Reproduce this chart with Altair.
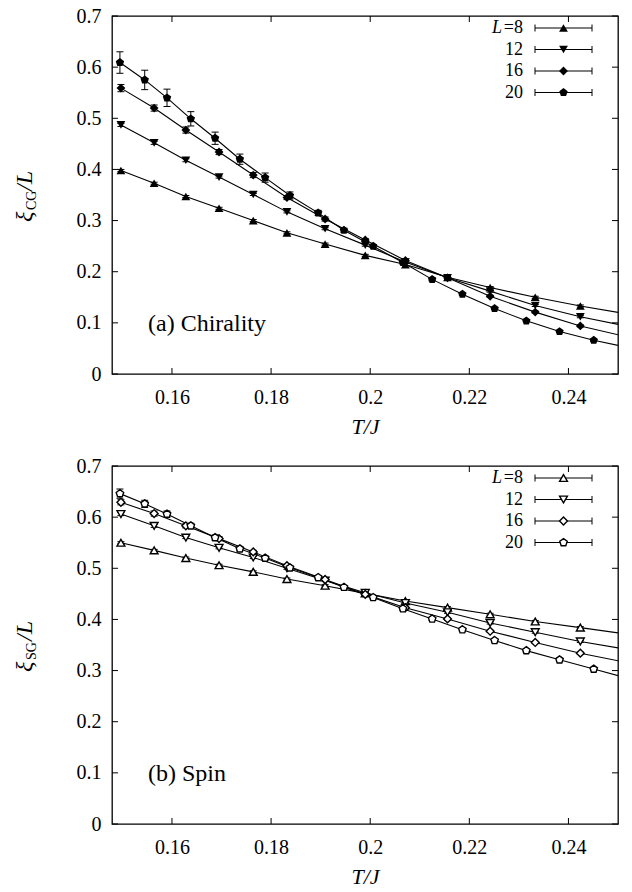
import altair as alt
import pandas as pd

# ---------------- data ----------------
SIZES = ["8", "12", "16", "20"]

# temperature grids: L=8,12,16 share one grid, L=20 has a finer one
T_A = [0.1497, 0.1564, 0.1628, 0.1695, 0.1764, 0.1832, 0.1909, 0.1990, 0.2071,
       0.2156, 0.2242, 0.2333, 0.2424, 0.2521]
T_B = [0.1495, 0.1545, 0.1590, 0.1638, 0.1687, 0.1737, 0.1788, 0.1838, 0.1895,
       0.1947, 0.2006, 0.2066, 0.2125, 0.2186, 0.2251, 0.2315, 0.2382, 0.2451, 0.2519]

# (a) chirality  xi_CG / L
CG_L8 = [0.398, 0.373, 0.347, 0.324, 0.300, 0.276, 0.254, 0.232, 0.214, 0.189, 0.169, 0.150, 0.133, 0.117]
CG_L12 = [0.487, 0.452, 0.418, 0.385, 0.351, 0.317, 0.284, 0.252, 0.219, 0.188, 0.162, 0.134, 0.112, 0.093]
CG_L16 = [0.559, 0.520, 0.477, 0.434, 0.389, 0.345, 0.303, 0.262, 0.222, 0.188, 0.152, 0.121, 0.094, 0.072]
CG_L20 = [0.609, 0.575, 0.540, 0.499, 0.461, 0.420, 0.384, 0.349, 0.315, 0.281, 0.250, 0.218, 0.185,
          0.156, 0.128, 0.104, 0.083, 0.066, 0.052]
CG_E8 = [0.002, 0.002, 0.002, 0.002, 0.002, 0.002, 0.002, 0.002, 0.002, 0.002, 0.002, 0.002, 0.002, 0.002]
CG_E12 = [0.003, 0.003, 0.003, 0.002, 0.002, 0.002, 0.002, 0.002, 0.002, 0.002, 0.002, 0.002, 0.002, 0.002]
CG_E16 = [0.007, 0.006, 0.006, 0.005, 0.005, 0.004, 0.004, 0.003, 0.003, 0.003, 0.002, 0.002, 0.002, 0.002]
CG_E20 = [0.021, 0.019, 0.017, 0.014, 0.012, 0.010, 0.009, 0.007, 0.005, 0.004, 0.003, 0.003, 0.003,
          0.002, 0.002, 0.002, 0.002, 0.002, 0.002]

# (b) spin  xi_SG / L
SG_L8 = [0.550, 0.535, 0.520, 0.506, 0.493, 0.479, 0.466, 0.451, 0.436, 0.423, 0.410, 0.396, 0.384, 0.371]
SG_L12 = [0.606, 0.583, 0.560, 0.540, 0.521, 0.500, 0.476, 0.452, 0.432, 0.414, 0.393, 0.375, 0.357, 0.341]
SG_L16 = [0.629, 0.607, 0.583, 0.558, 0.532, 0.505, 0.478, 0.449, 0.423, 0.401, 0.377, 0.355, 0.334, 0.315]
SG_L20 = [0.646, 0.626, 0.606, 0.583, 0.560, 0.538, 0.520, 0.501, 0.482, 0.463, 0.443, 0.421, 0.401,
          0.380, 0.359, 0.339, 0.321, 0.303, 0.285]
SG_E8 = [0.002, 0.002, 0.002, 0.002, 0.002, 0.002, 0.002, 0.002, 0.002, 0.002, 0.002, 0.002, 0.002, 0.002]
SG_E12 = [0.003, 0.003, 0.002, 0.002, 0.002, 0.002, 0.002, 0.002, 0.002, 0.002, 0.002, 0.002, 0.002, 0.002]
SG_E16 = [0.005, 0.005, 0.004, 0.004, 0.003, 0.003, 0.003, 0.003, 0.003, 0.002, 0.002, 0.002, 0.002, 0.002]
SG_E20 = [0.009, 0.007, 0.006, 0.005, 0.005, 0.004, 0.004, 0.004, 0.003, 0.003, 0.003, 0.003, 0.003,
          0.003, 0.003, 0.003, 0.003, 0.003, 0.003]

X_TICKS = [0.16, 0.18, 0.2, 0.22, 0.24]
Y_TICKS = [0, 0.1, 0.2, 0.3, 0.4, 0.5, 0.6, 0.7]

# ---------------- layout / style ----------------
W, H = 506, 358
XMIN, XMAX, YMAX = 0.1479, 0.25, 0.7
FONT = "Liberation Serif"
PENTAGON = "M0,-1L0.951,-0.309L0.588,0.809L-0.588,0.809L-0.951,-0.309Z"
SHAPES = ["triangle-up", "triangle-down", "diamond", PENTAGON]
TICK = 6
LEG_Y0, LEG_DY = 12, 21.5
LEG_TXT_X, LEG_L0, LEG_L1 = 411, 423, 480

xs = alt.Scale(domain=[XMIN, XMAX], nice=False, zero=False)
ys = alt.Scale(domain=[0, YMAX], nice=False, zero=False)
shape_scale = alt.Scale(domain=SIZES, range=SHAPES)

XAX = alt.Axis(values=X_TICKS, format="~g", title="T/J", titleFontStyle="italic",
               titleFontSize=22, titleFontWeight="normal", titleFont=FONT, titlePadding=9,
               labelFont=FONT, labelFontSize=20, labelPadding=13, labelColor="black",
               titleColor="black", ticks=False, domain=False, grid=False)
YAX = alt.Axis(values=Y_TICKS, format="~g", title="", labelFont=FONT, labelFontSize=20,
               labelPadding=11, labelColor="black", ticks=False, domain=False, grid=False)


def X(field):
    return alt.X(field, scale=xs, axis=XAX)


def Y(field):
    return alt.Y(field, scale=ys, axis=YAX)


def build(vals, errs):
    rows = []
    grids = [T_A, T_A, T_A, T_B]
    for L, grid, v, e in zip(SIZES, grids, vals, errs):
        for t, y, err in zip(grid, v, e):
            rows.append({"L": L, "T": t, "val": y, "err": err})
    return pd.DataFrame(rows)


def panel(vals, errs, filled, sub, label):
    df = build(vals, errs)
    base = alt.Chart(df)

    if filled:
        pt_kw = dict(filled=True, color="black", size=78, opacity=1)
    else:
        pt_kw = dict(filled=False, fill="white", stroke="black", strokeWidth=1.4, size=62, opacity=1)

    lines = base.mark_line(color="black", strokeWidth=1.1, clip=True).encode(
        x=X("T:Q"), y=Y("val:Q"), detail="L:N")

    pts = base.transform_filter(f"datum.T <= {XMAX}")
    errb = pts.transform_calculate(lo="datum.val - datum.err", hi="datum.val + datum.err")
    bars = errb.mark_rule(color="black", strokeWidth=1).encode(
        x=X("T:Q"), y=Y("lo:Q"), y2="hi:Q")
    cap_lo = errb.mark_tick(orient="horizontal", color="black", size=7, thickness=1, opacity=1).encode(
        x=X("T:Q"), y=Y("lo:Q"))
    cap_hi = errb.mark_tick(orient="horizontal", color="black", size=7, thickness=1, opacity=1).encode(
        x=X("T:Q"), y=Y("hi:Q"))
    points = pts.mark_point(**pt_kw).encode(
        x=X("T:Q"), y=Y("val:Q"),
        shape=alt.Shape("L:N", scale=shape_scale, legend=None))

    # inward ticks on all four sides (gnuplot style)
    xt = alt.Chart(pd.DataFrame({"t": X_TICKS}))
    yt = alt.Chart(pd.DataFrame({"t": Y_TICKS}))
    tb = xt.mark_rule(color="black", strokeWidth=1).encode(
        x=X("t:Q"), y=alt.value(H), y2=alt.value(H - TICK))
    tt = xt.mark_rule(color="black", strokeWidth=1).encode(
        x=X("t:Q"), y=alt.value(0), y2=alt.value(TICK))
    tl = yt.mark_rule(color="black", strokeWidth=1).encode(
        y=Y("t:Q"), x=alt.value(0), x2=alt.value(TICK))
    tr = yt.mark_rule(color="black", strokeWidth=1).encode(
        y=Y("t:Q"), x=alt.value(W), x2=alt.value(W - TICK))

    # key
    leg = alt.Chart(pd.DataFrame({"L": SIZES, "idx": list(range(len(SIZES)))})).transform_calculate(
        ly=f"{YMAX} * (1 - ({LEG_Y0} + {LEG_DY} * datum.idx) / {H})",
        ly0=f"{YMAX} * (1 - ({LEG_Y0} + {LEG_DY} * datum.idx - 3.5) / {H})",
        ly1=f"{YMAX} * (1 - ({LEG_Y0} + {LEG_DY} * datum.idx + 3.5) / {H})",
        txt="datum.idx == 0 ? '=' + datum.L : datum.L",
    )
    leg_txt = leg.mark_text(align="right", baseline="middle", font=FONT, fontSize=18, color="black").encode(
        x=alt.value(LEG_TXT_X), y=Y("ly:Q"), text="txt:N")
    leg_L = leg.transform_filter("datum.idx == 0").mark_text(
        align="right", baseline="middle", font=FONT, fontSize=18, fontStyle="italic", color="black").encode(
        x=alt.value(LEG_TXT_X - 21), y=Y("ly:Q"), text=alt.value("L"))
    leg_line = leg.mark_rule(color="black", strokeWidth=1.1).encode(
        x=alt.value(LEG_L0), x2=alt.value(LEG_L1), y=Y("ly:Q"))
    leg_c0 = leg.mark_rule(color="black", strokeWidth=1).encode(
        x=alt.value(LEG_L0), y=Y("ly0:Q"), y2="ly1:Q")
    leg_c1 = leg.mark_rule(color="black", strokeWidth=1).encode(
        x=alt.value(LEG_L1), y=Y("ly0:Q"), y2="ly1:Q")
    leg_pt = leg.mark_point(**pt_kw).encode(
        x=alt.value((LEG_L0 + LEG_L1) / 2), y=Y("ly:Q"),
        shape=alt.Shape("L:N", scale=shape_scale, legend=None))

    # panel label
    one = alt.Chart(pd.DataFrame({"a": [0]}))
    plabel = one.mark_text(align="left", baseline="middle", font=FONT, fontSize=24, color="black").encode(
        x=alt.value(36), y=alt.value(308), text=alt.value(label))

    # y-axis title  xi_{sub}/L  (rotated, composed of pieces)
    t_xi = one.mark_text(angle=270, align="left", baseline="alphabetic", font=FONT, fontSize=24,
                         fontStyle="italic", color="black").encode(
        x=alt.value(-80), y=alt.value(H / 2 + 27), text=alt.value("ξ"))
    t_sub = one.mark_text(angle=270, align="left", baseline="alphabetic", font=FONT, fontSize=14,
                          color="black").encode(
        x=alt.value(-76), y=alt.value(H / 2 + 15), text=alt.value(sub))
    t_L = one.mark_text(angle=270, align="left", baseline="alphabetic", font=FONT, fontSize=24,
                        fontStyle="italic", color="black").encode(
        x=alt.value(-80), y=alt.value(H / 2 - 4), text=alt.value("/L"))

    return alt.layer(lines, bars, cap_lo, cap_hi, points, tb, tt, tl, tr,
                     leg_line, leg_c0, leg_c1, leg_pt, leg_txt, leg_L,
                     plabel, t_xi, t_sub, t_L).properties(width=W, height=H)


top = panel([CG_L8, CG_L12, CG_L16, CG_L20], [CG_E8, CG_E12, CG_E16, CG_E20], True, "CG", "(a) Chirality")
bottom = panel([SG_L8, SG_L12, SG_L16, SG_L20], [SG_E8, SG_E12, SG_E16, SG_E20], False, "SG", "(b) Spin")

chart = alt.vconcat(top, bottom, spacing=17).properties(
    padding={"left": 12, "top": 5, "right": 10, "bottom": 5},
    background="white",
).configure_view(stroke="black", strokeWidth=1.3)

chart.save("out.html", embed_options={"renderer": "svg", "actions": False})
